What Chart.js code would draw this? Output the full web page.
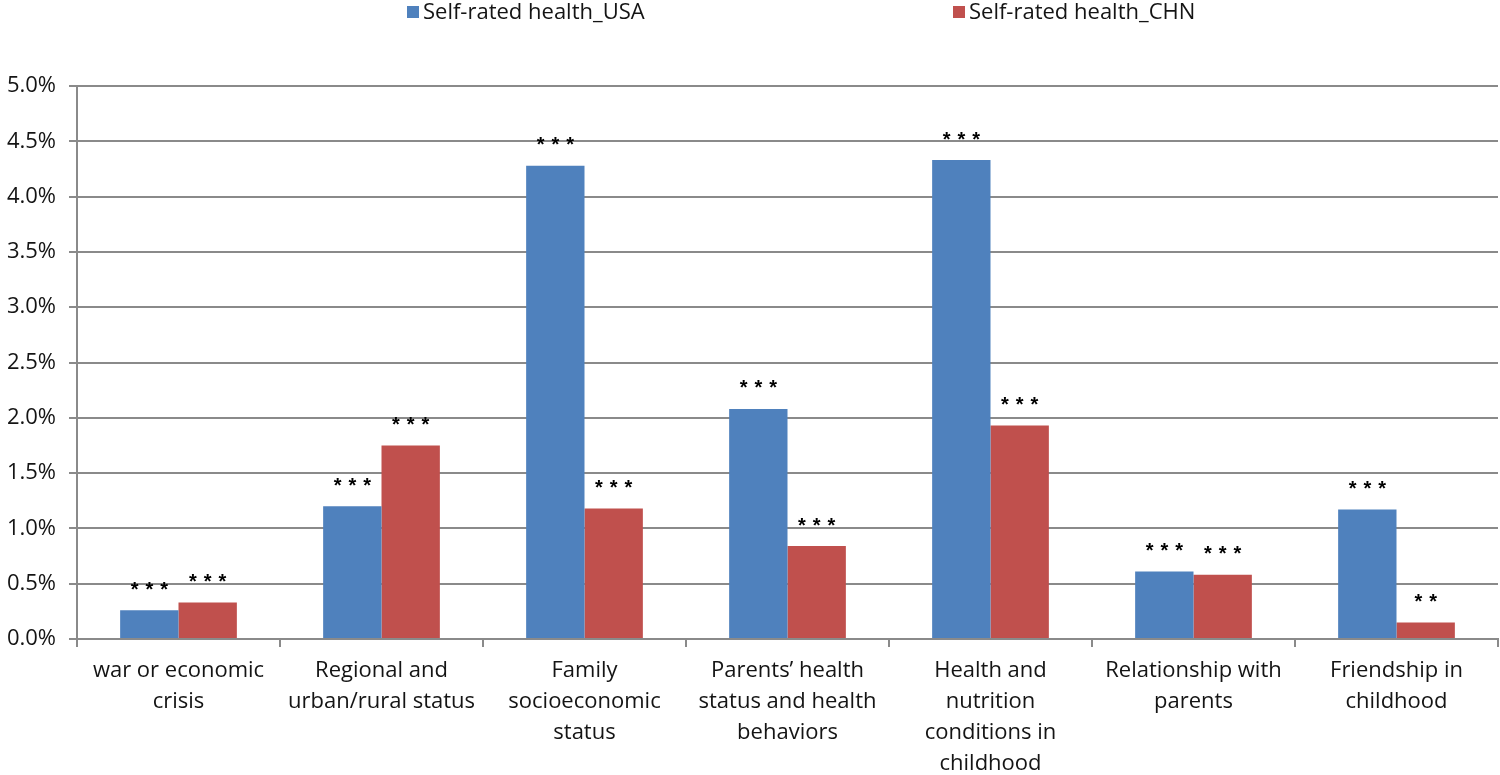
<!DOCTYPE html>
<html>
<head>
<meta charset="utf-8">
<script src="https://cdn.jsdelivr.net/npm/chart.js@4.4.1/dist/chart.umd.min.js"></script>
<style>
  html, body { margin: 0; padding: 0; background: #ffffff; }
  #wrap { width: 1500px; height: 775px; position: relative; }
</style>
</head>
<body>
<div id="wrap"><canvas id="c" width="1500" height="775"></canvas></div>
<script>
// ---- data ----
const categories = [
  ["war or economic", "crisis"],
  ["Regional and", "urban/rural status"],
  ["Family", "socioeconomic", "status"],
  ["Parents’ health", "status and health", "behaviors"],
  ["Health and", "nutrition", "conditions in", "childhood"],
  ["Relationship with", "parents"],
  ["Friendship in", "childhood"]
];
const seriesNames = ["Self-rated health_USA", "Self-rated health_CHN"];
const usaValues = [0.26, 1.20, 4.28, 2.08, 4.33, 0.61, 1.17];
const chnValues = [0.33, 1.75, 1.18, 0.84, 1.93, 0.58, 0.15];
const usaStars = ["***", "***", "***", "***", "***", "***", "***"];
const chnStars = ["***", "***", "***", "***", "***", "***", "**"];
const yTicks = [0, 0.5, 1.0, 1.5, 2.0, 2.5, 3.0, 3.5, 4.0, 4.5, 5.0];

const FONT = "'Open Sans', 'Liberation Sans', sans-serif";
const TEXT = '#141414';
const GRID = '#8a8a8a';
const colors = ['#4F81BD', '#C0504D'];

const starPlugin = {
  id: 'stars',
  afterDatasetsDraw(chart) {
    const ctx = chart.ctx;
    const starSets = [usaStars, chnStars];
    ctx.save();
    ctx.fillStyle = '#000';
    ctx.font = "bold 20px 'Liberation Sans', sans-serif";
    ctx.textAlign = 'center';
    ctx.textBaseline = 'middle';
    let shift = 0;
    if ('letterSpacing' in ctx) { ctx.letterSpacing = '7px'; shift = 3.5; }
    chart.data.datasets.forEach((ds, i) => {
      const meta = chart.getDatasetMeta(i);
      meta.data.forEach((bar, j) => {
        const s = starSets[i][j];
        if (!s) return;
        ctx.fillText(s, bar.x + shift, bar.y - 20);
      });
    });
    ctx.restore();
  }
};

const legendPlugin = {
  id: 'topLegend',
  afterDraw(chart) {
    const ctx = chart.ctx;
    const starts = [407, 953];
    ctx.save();
    ctx.font = "22px " + FONT;
    ctx.textBaseline = 'middle';
    ctx.textAlign = 'left';
    chart.data.datasets.forEach((ds, i) => {
      const x = starts[i];
      ctx.fillStyle = ds.backgroundColor;
      ctx.fillRect(x, 6, 12, 12);
      ctx.fillStyle = TEXT;
      ctx.fillText(ds.label, x + 16, 13);
    });
    ctx.restore();
  }
};

new Chart(document.getElementById('c'), {
  type: 'bar',
  data: {
    labels: categories,
    datasets: [
      { label: seriesNames[0], data: usaValues, backgroundColor: colors[0], borderWidth: 0 },
      { label: seriesNames[1], data: chnValues, backgroundColor: colors[1], borderWidth: 0 }
    ]
  },
  options: {
    responsive: false,
    animation: false,
    devicePixelRatio: 1,
    layout: { padding: { top: 86, right: 2, left: 0, bottom: 0 } },
    datasets: { bar: { categoryPercentage: 0.575, barPercentage: 1.0 } },
    plugins: {
      legend: { display: false },
      tooltip: { enabled: false },
      title: { display: false }
    },
    scales: {
      x: {
        offset: true,
        grid: { display: true, offset: true, drawOnChartArea: false, drawTicks: true, tickLength: 8, color: GRID, lineWidth: 2 },
        border: { display: true, color: GRID, width: 2 },
        ticks: {
          color: TEXT,
          font: { family: FONT, size: 22, lineHeight: 1.41 },
          padding: 8,
          maxRotation: 0,
          autoSkip: false
        },
        afterFit(scale) { scale.height = 136; }
      },
      y: {
        min: 0,
        max: 5,
        afterBuildTicks(scale) { scale.ticks = yTicks.map(v => ({ value: v })); },
        grid: { color: GRID, lineWidth: 2, tickLength: 8, drawTicks: true },
        border: { display: true, color: GRID, width: 2 },
        ticks: {
          color: TEXT,
          font: { family: FONT, size: 22 },
          padding: 13,
          callback: (v) => Number(v).toFixed(1) + '%'
        },
        afterFit(scale) { scale.width = 77; }
      }
    }
  },
  plugins: [starPlugin, legendPlugin]
});
</script>
</body>
</html>
